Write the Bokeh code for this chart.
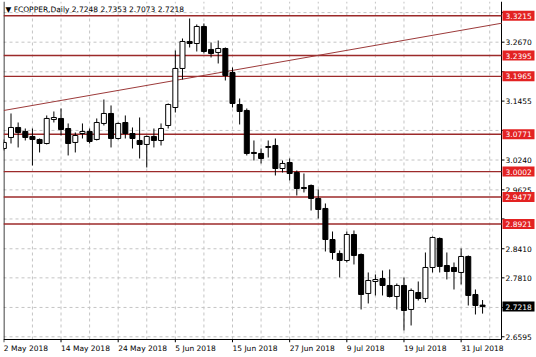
from bokeh.plotting import figure
from bokeh.models import Range1d, FixedTicker, ColumnDataSource
from bokeh.core.properties import value
from bokeh.embed import file_html
from bokeh.resources import INLINE

# ---- data (daily bars, 2 May 2018 .. 3 Aug 2018) ----
bar_index = list(range(68))
opens = [3.0478, 3.0705, 3.0911, 3.0829, 3.0726, 3.0664, 3.0581, 3.1076, 3.1097, 3.0890,
         3.0602, 3.0787, 3.0829, 3.0664, 3.0994, 3.1200, 3.0684, 3.1014, 3.0787, 3.0643,
         3.0561, 3.0726, 3.0643, 3.0952, 3.1323, 3.2128, 3.2685, 3.2643, 3.2994, 3.2520,
         3.2458, 3.2540, 3.2045, 3.1385, 3.1262, 3.0396, 3.0375, 3.0499, 3.0540, 3.0065,
         3.0189, 2.9983, 2.9674, 2.9715, 2.9447, 2.9241, 2.8601, 2.8313, 2.8168, 2.8704,
         2.8292, 2.7488, 2.7735, 2.7797, 2.7653, 2.7426, 2.7653, 2.7158, 2.7508, 2.7385,
         2.8024, 2.8622, 2.8065, 2.8024, 2.7921, 2.8251, 2.7467, 2.7248]
highs = [3.0664, 3.1200, 3.1014, 3.0890, 3.0890, 3.0684, 3.1159, 3.1241, 3.1303, 3.0994,
         3.0808, 3.0994, 3.0890, 3.1097, 3.1488, 3.1365, 3.1014, 3.1159, 3.0911, 3.1117,
         3.0746, 3.0890, 3.0994, 3.1406, 3.2499, 3.2746, 3.3159, 3.3035, 3.3056, 3.2664,
         3.2705, 3.2561, 3.2148, 3.1509, 3.1303, 3.0643, 3.0478, 3.0643, 3.0684, 3.0230,
         3.0272, 3.0024, 2.9962, 2.9736, 2.9632, 2.9344, 2.8766, 2.8375, 2.8766, 2.8787,
         2.8313, 2.7921, 2.7880, 2.7962, 2.7983, 2.7694, 2.7818, 2.7591, 2.7735, 2.8333,
         2.8663, 2.8643, 2.8333, 2.8127, 2.8416, 2.8272, 2.7570, 2.7353]
lows = [3.0437, 3.0581, 3.0499, 3.0643, 3.0127, 3.0396, 3.0561, 3.1014, 3.0746, 3.0334,
        3.0396, 3.0684, 3.0581, 3.0643, 3.0952, 3.0499, 3.0664, 3.0684, 3.0478, 3.0272,
        3.0086, 3.0499, 3.0540, 3.0890, 3.1220, 3.1901, 3.2561, 3.2478, 3.2437, 3.2355,
        3.2231, 3.1880, 3.1323, 3.0973, 3.0334, 3.0230, 3.0169, 3.0292, 2.9921, 2.9983,
        2.9818, 2.9509, 2.9571, 2.9199, 2.9034, 2.8354, 2.8189, 2.7818, 2.8127, 2.8086,
        2.7158, 2.7282, 2.7447, 2.7447, 2.7405, 2.7158, 2.6725, 2.6828, 2.7343, 2.7302,
        2.7921, 2.7921, 2.7777, 2.7570, 2.7674, 2.7240, 2.7055, 2.7073]
closes = [3.0602, 3.0911, 3.0808, 3.0705, 3.0664, 3.0581, 3.1097, 3.1117, 3.0870, 3.0581,
          3.0746, 3.0829, 3.0622, 3.1014, 3.1200, 3.0684, 3.0994, 3.0787, 3.0684, 3.0561,
          3.0726, 3.0643, 3.0890, 3.1385, 3.2128, 3.2685, 3.2643, 3.2994, 3.2478, 3.2437,
          3.2540, 3.1983, 3.1406, 3.1241, 3.0375, 3.0375, 3.0272, 3.0519, 3.0065, 3.0169,
          2.9962, 2.9653, 2.9653, 2.9447, 2.9220, 2.8601, 2.8333, 2.8168, 2.8704, 2.8272,
          2.7467, 2.7756, 2.7776, 2.7653, 2.7426, 2.7653, 2.7137, 2.7550, 2.7385, 2.8024,
          2.8643, 2.8045, 2.7941, 2.7941, 2.8251, 2.7447, 2.7240, 2.7218]

date_tick_index = [0, 8, 16, 24, 32, 40, 48, 56, 64]
date_tick_labels = ["2 May 2018", "14 May 2018", "24 May 2018", "5 Jun 2018", "15 Jun 2018",
                    "27 Jun 2018", "9 Jul 2018", "19 Jul 2018", "31 Jul 2018"]
grid_bar_index = list(range(4, 69, 4))

price_grid = [3.3280, 3.2670, 3.2060, 3.1455, 3.0850, 3.0240, 2.9625, 2.9025,
              2.8410, 2.7810, 2.7200, 2.6595]
price_label_values = [3.2670, 3.1455, 3.0240, 2.9625, 2.8410, 2.7810, 2.6595]
price_label_texts = ["3.2670", "3.1455", "3.0240", "2.9625", "2.8410", "2.7810", "2.6595"]

level_prices = [3.3215, 3.2395, 3.1965, 3.0771, 3.0002, 2.9477, 2.8921]
last_price = 2.7218
trend_x = [0, 69.7]
trend_y = [3.1262, 3.3062]
header_text = "\u25bc FCOPPER,Daily  2.7248 2.7353 2.7073 2.7218"

# ---- layout / style ----
FONT = "DejaVu Sans"
FS = "7.5px"
PX = 7.145                      # pixels per bar
PY = 0.0020622                  # price per pixel
X_START, CHART_RIGHT, X_END = -0.05, 69.65, 74.548
Y_MIN, CHART_BOTTOM, Y_MAX = 2.6477, 2.6539, 3.3509
TICK_END = CHART_RIGHT + 3 / PX
LABEL_X = CHART_RIGHT + 4 / PX
BOX_X = CHART_RIGHT + 17 / PX
LEFT_EDGE = X_START + 0.5 / PX

# DejaVu Sans advance widths (em) to left-align date labels at their ticks
ADV = {" ": 0.318, "M": 0.863, "a": 0.613, "y": 0.592, "J": 0.295, "u": 0.634,
       "n": 0.634, "l": 0.278}
def text_width_bars(s):
    return sum(ADV.get(ch, 0.636) for ch in s) * 7.5 / PX

date_label_centers = [round(i + text_width_bars(t) / 2, 3)
                      for i, t in zip(date_tick_index, date_tick_labels)]

p = figure(width=536, height=357, output_backend="svg", toolbar_location=None,
           x_range=Range1d(X_START, X_END), y_range=Range1d(Y_MIN, Y_MAX),
           y_axis_location=None, min_border_left=3, min_border_right=0,
           min_border_top=1, min_border_bottom=15, background_fill_color="white",
           border_fill_color="white")
p.outline_line_color = None
p.xgrid.visible = False
p.ygrid.visible = False

# bottom axis: only the left-aligned date labels
xa = p.xaxis[0]
xa.ticker = FixedTicker(ticks=date_label_centers)
xa.major_label_overrides = {c: t for c, t in zip(date_label_centers, date_tick_labels)}
xa.axis_line_color = None
xa.major_tick_line_color = None
xa.minor_tick_line_color = None
xa.major_tick_out = 0
xa.major_tick_in = 0
xa.minor_tick_out = 0
xa.minor_tick_in = 0
xa.major_label_standoff = 1
xa.major_label_text_font = FONT
xa.major_label_text_font_size = FS
xa.major_label_text_color = "black"

# grid (dashed), inside the chart area only
p.segment(x0=X_START, x1=CHART_RIGHT, y0=price_grid, y1=price_grid,
          line_color="#C4C4C4", line_dash="3 3", line_width=1)
p.segment(x0=grid_bar_index, x1=grid_bar_index, y0=CHART_BOTTOM, y1=Y_MAX,
          line_color="#C4C4C4", line_dash="3 3", line_width=1)

# chart borders: left edge, price-axis line, time-axis line, date tick marks
p.segment(x0=[LEFT_EDGE, CHART_RIGHT], x1=[LEFT_EDGE, CHART_RIGHT],
          y0=CHART_BOTTOM, y1=Y_MAX, line_color="black", line_width=1)
p.segment(x0=[X_START], x1=[CHART_RIGHT], y0=[CHART_BOTTOM], y1=[CHART_BOTTOM],
          line_color="black", line_width=1)
p.segment(x0=date_tick_index, x1=date_tick_index, y0=CHART_BOTTOM, y1=Y_MIN,
          line_color="black", line_width=1)

# horizontal levels
p.segment(x0=X_START, x1=CHART_RIGHT, y0=level_prices, y1=level_prices,
          line_color="#9C2A2A", line_width=1.3)

# trend line
p.line(trend_x, trend_y, line_color="#9C3A3A", line_width=1)

# candles
src = ColumnDataSource(dict(
    x=bar_index, o=opens, h=highs, l=lows, c=closes,
    top=[max(a, b) for a, b in zip(opens, closes)],
    bot=[min(a, b) for a, b in zip(opens, closes)],
    fill=["white" if c >= o else "black" for o, c in zip(opens, closes)],
))
p.segment(x0="x", y0="l", x1="x", y1="h", source=src, line_color="black", line_width=1)
p.vbar(x="x", top="top", bottom="bot", width=0.7, fill_color="fill",
       line_color="black", line_width=1, source=src)

# header text
p.text(x=[0.23], y=[3.3338], text=[header_text], text_font=value(FONT),
       text_font_size=value(FS), text_color="black", text_baseline="middle",
       text_align="left")

# price axis: tick marks and labels
p.segment(x0=CHART_RIGHT, x1=TICK_END, y0=price_grid, y1=price_grid,
          line_color="black", line_width=1)
p.text(x=LABEL_X, y=price_label_values, text=price_label_texts, text_font=value(FONT),
       text_font_size=value(FS), text_color="black", text_baseline="middle",
       text_align="left")

# level price boxes (red) and last price box (black)
box_y = level_prices + [last_price]
box_fill = ["#E32222"] * len(level_prices) + ["black"]
box_text = [f"{v:.4f}" for v in box_y]
p.rect(x=BOX_X, y=box_y, width=32, height=10, width_units="screen", height_units="screen",
       fill_color=box_fill, line_color=None)
p.text(x=LABEL_X, y=box_y, text=box_text, text_font=value(FONT), text_font_size=value(FS),
       text_color="white", text_baseline="middle", text_align="left")

open("out.html", "w").write(file_html(p, INLINE))
